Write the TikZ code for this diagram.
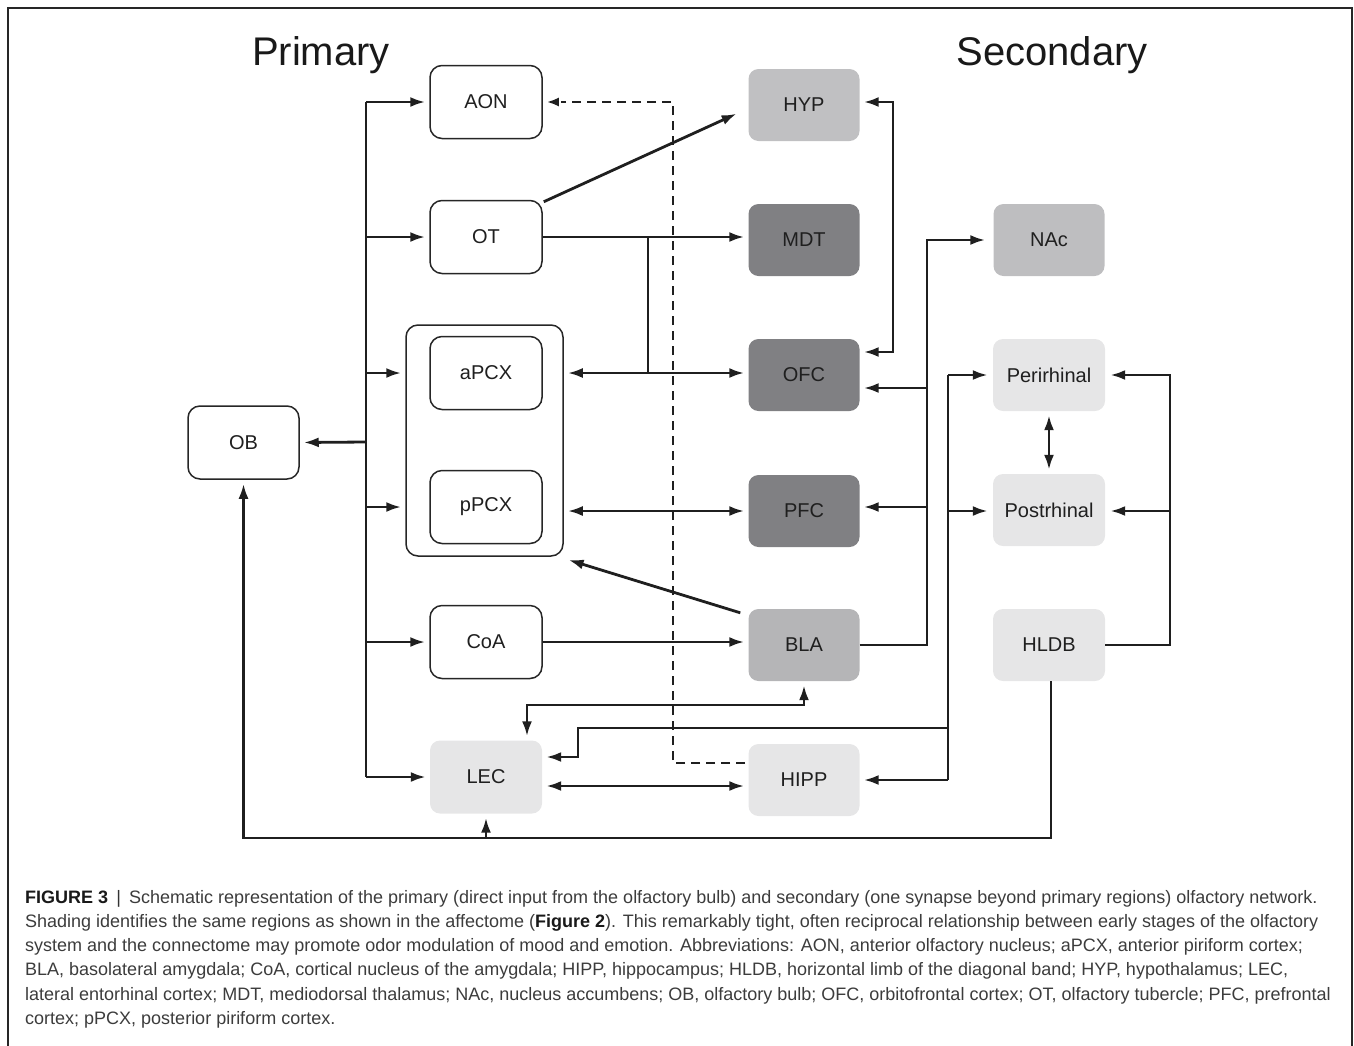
\documentclass[tikz,border=0pt]{standalone}
\usepackage{fontspec}
\setmainfont{Liberation Sans}
\usetikzlibrary{arrows.meta}
\newcommand\fsz[2]{\fontsize{#1}{#2}\selectfont}
\definecolor{dkg}{HTML}{808083}
\definecolor{hypg}{HTML}{C0C0C2}
\definecolor{blag}{HTML}{B5B5B7}
\definecolor{nacg}{HTML}{BEBEC0}
\definecolor{ltg}{HTML}{E6E6E7}
\definecolor{capc}{HTML}{3C3C3C}
\tikzset{
  wbox/.style={draw=black!85, line width=1.5pt, rounded corners=12pt, fill=white,
    minimum width=112pt, minimum height=73pt, font=\fsz{20}{24}, text=black!88},
  gbox/.style={fill=#1, draw=none, rounded corners=10pt,
    minimum width=111pt, minimum height=72pt, font=\fsz{20}{24}, text=black!88},
  conn/.style={line width=2.8pt, draw=black!88},
  arr/.style={conn, -{Latex[length=15pt,width=10pt]}, shorten >=4pt},
  darr/.style={conn, {Latex[length=15pt,width=10pt]}-{Latex[length=15pt,width=10pt]}, shorten >=4pt, shorten <=4pt},
  dsh/.style={line width=2.6pt, draw=black!88, dash pattern=on 9pt off 6pt},
  ttl/.style={font=\fsz{40}{48}, text=black!90},
  capline/.style={anchor=base west, inner sep=0pt, font=\fsz{18}{24}, text=capc},
}
\begin{document}
\begin{tikzpicture}[x=1pt,y=-1pt]
\useasboundingbox (0,0) rectangle (1354,1045);
% frame
\draw[line width=1.5pt, black!85] (8,1060) -- (8,8) -- (1352,8) -- (1352,1060);

% titles
\node[ttl] (tPrim) at (321,55) {Primary};
\node[ttl] (tSec) at (1052,55) {Secondary};

% primary column
\node[draw=black!85, line width=1.5pt, rounded corners=12pt, minimum width=157pt, minimum height=231pt] (PCX) at (484.5,440.5) {};
\node[wbox] (AON) at (486,102) {AON};
\node[wbox] (OT) at (486,237) {OT};
\node[wbox] (aPCX) at (486,373) {aPCX};
\node[wbox] (pPCX) at (486,507) {pPCX};
\node[wbox] (CoA) at (486,642) {CoA};
\node[gbox=ltg, minimum width=112pt, minimum height=73pt] (LEC) at (486,777) {LEC};
\node[wbox, minimum width=111pt] (OB) at (243.5,442.5) {OB};

% secondary column
\node[gbox=hypg] (HYP) at (804,105) {HYP};
\node[gbox=dkg] (MDT) at (804,240) {MDT};
\node[gbox=dkg] (OFC) at (804,375) {OFC};
\node[gbox=dkg] (PFC) at (804,511) {PFC};
\node[gbox=blag] (BLA) at (804,645) {BLA};
\node[gbox=ltg] (HIPP) at (804,780) {HIPP};
\node[gbox=nacg] (NAc) at (1049,240) {NAc};
\node[gbox=ltg, minimum width=112pt] (Peri) at (1049,375) {Perirhinal};
\node[gbox=ltg, minimum width=112pt] (Post) at (1049,510) {Postrhinal};
\node[gbox=ltg, minimum width=112pt] (HLDB) at (1049,645) {HLDB};

% left bus
\coordinate (lbT) at (366,102);
\coordinate (lbB) at (366,777);
\coordinate (lbOB) at (366,442);
\draw[conn] (lbT) -- (lbB);
\draw[arr] (lbT) -- (AON.west);
\draw[arr] (lbT |- OT.west) -- (OT.west);
\draw[arr] (lbT |- aPCX.west) -- (PCX.west |- aPCX.west);
\draw[arr] (lbT |- pPCX.west) -- (PCX.west |- pPCX.west);
\draw[arr] (lbT |- CoA.west) -- (CoA.west);
\draw[arr] (lbB) -- (LEC.west);
\draw[arr] (lbOB) -- (OB.east);

% dashed HIPP -> AON
\coordinate (d1) at (745,763);
\coordinate (d2) at (673,763);
\coordinate (d3) at (673,102);
\draw[dsh] (d1) -- (d2) -- (d3) -- ([xshift=18pt]AON.east);
\draw[line width=2.6pt, black!88, -{Latex[length=12pt,width=9pt]}, shorten >=4pt] ([xshift=14pt]AON.east) -- (AON.east);

% OT outputs
\draw[arr] ([xshift=1pt,yshift=-2pt]OT.north east) -- ([xshift=-8pt,yshift=-7pt]HYP.west);
\draw[arr] (OT.east) -- (OT.east -| MDT.west);
\coordinate (j1) at (648,237);
\coordinate (j2) at (648,373);
\draw[conn] (j1) -- (j2);
\draw[darr] (PCX.east |- aPCX.east) -- (aPCX.east -| OFC.west);
\draw[darr] (PCX.east |- PFC.west) -- (PFC.west);

% BLA -> PCX
\draw[arr] ([xshift=-8pt,yshift=-4pt]BLA.north west) -- ([xshift=1pt,yshift=-2pt]PCX.south east);
% CoA -> BLA
\draw[arr] (CoA.east) -- (CoA.east -| BLA.west);

% BLA right bus
\coordinate (bb0) at (927,645);
\coordinate (bbT) at (927,240);
\draw[arr, shorten >=8pt] (BLA.east) -- (bb0) -- (bbT) -- (NAc.west);
\coordinate (bbO) at (927,388);
\coordinate (bbP) at (927,507);
\draw[arr] (bbO) -- (OFC.east |- bbO);
\draw[arr] (bbP) -- (PFC.east |- bbP);

% HYP <-> OFC
\coordinate (hb1) at (893,102);
\coordinate (hb2) at (893,352);
\draw[darr] (HYP.east |- hb1) -- (hb1) -- (hb2) -- (OFC.east |- hb2);

% LEC <-> BLA
\coordinate (lb1) at (527,705);
\coordinate (lb2) at (804,705);
\draw[darr] (LEC.north -| lb1) -- (lb1) -- (lb2) -- (BLA.south);

% right-middle bus (x=948)
\coordinate (mb1) at (948,375);
\coordinate (mb2) at (948,780);
\coordinate (mbP) at (948,511);
\coordinate (mbL) at (948,728);
\draw[conn] (mb1) -- (mb2);
\draw[arr, shorten >=5pt] (mb1) -- (Peri.west |- mb1);
\draw[arr, shorten >=5pt] (mbP) -- (Post.west |- mbP);
\draw[arr] (mb2) -- (HIPP.east |- mb2);
\coordinate (lh2) at (578,728);
\coordinate (lh1) at (578,757);
\draw[arr] (mbL) -- (lh2) -- (lh1) -- (LEC.east |- lh1);

% LEC <-> HIPP
\coordinate (lhy) at (640,786);
\draw[darr] (LEC.east |- lhy) -- (HIPP.west |- lhy);

% Peri <-> Post
\draw[darr] (Peri.south) -- (Post.north);

% right bus x=1170
\coordinate (rb1) at (1170,375);
\coordinate (rb3) at (1170,645);
\coordinate (rbP) at (1170,511);
\draw[arr, shorten >=5pt] (HLDB.east) -- (rb3) -- (rb1) -- (Peri.east |- rb1);
\draw[arr, shorten >=5pt] (rbP) -- (Post.east |- rbP);

% bottom loop HLDB -> OB, LEC
\coordinate (bt1) at (1051,838);
\coordinate (bt2) at (243.5,838);
\draw[arr] (HLDB.south -| bt1) -- (bt1) -- (bt2) -- (OB.south);
\draw[arr] (LEC.south |- bt1) -- (LEC.south);

% caption
\node[capline] (c1) at (25,903) {{\bfseries\color{black!90}FIGURE 3}\hspace{0.45em}{\color{black!80}|}\hspace{0.45em}Schematic representation of the primary (direct input from the olfactory bulb) and secondary (one synapse beyond primary regions) olfactory network.};
\node[capline] (c2) at (25,927.3) {Shading identifies the same regions as shown in the affectome ({\bfseries\color{black!90}Figure 2}). This remarkably tight, often reciprocal relationship between early stages of the olfactory};
\node[capline] (c3) at (25,951.6) {system and the connectome may promote odor modulation of mood and emotion. Abbreviations: AON, anterior olfactory nucleus; aPCX, anterior piriform cortex;};
\node[capline] (c4) at (25,975.9) {BLA, basolateral amygdala; CoA, cortical nucleus of the amygdala; HIPP, hippocampus; HLDB, horizontal limb of the diagonal band; HYP, hypothalamus; LEC,};
\node[capline] (c5) at (25,1000.2) {lateral entorhinal cortex; MDT, mediodorsal thalamus; NAc, nucleus accumbens; OB, olfactory bulb; OFC, orbitofrontal cortex; OT, olfactory tubercle; PFC, prefrontal};
\node[capline] (c6) at (25,1024.5) {cortex; pPCX, posterior piriform cortex.};
\end{tikzpicture}
\end{document}
